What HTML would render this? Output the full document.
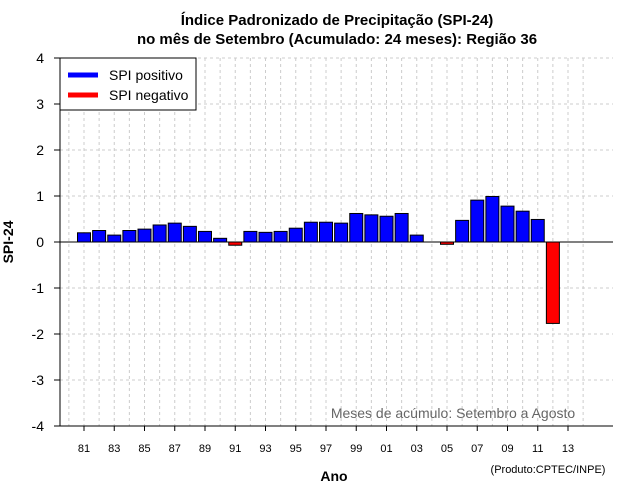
<!DOCTYPE html>
<html><head><meta charset="utf-8"><style>
body{margin:0;background:#fff;}
svg{display:block;font-family:"Liberation Sans",sans-serif;}
</style></head><body>
<svg id="c" width="640" height="500">
<text x="337" y="25" text-anchor="middle" font-size="15" font-weight="bold">Índice Padronizado de Precipitação (SPI-24)</text>
<text x="337" y="44" text-anchor="middle" font-size="15" font-weight="bold">no mês de Setembro (Acumulado: 24 meses): Região 36</text>
<g id="grid"></g><g id="bars"></g><g id="axes"></g>
<text x="334" y="481" text-anchor="middle" font-size="14" font-weight="bold">Ano</text>
<text transform="translate(13,242) rotate(-90)" text-anchor="middle" font-size="14" font-weight="bold">SPI-24</text>
<text x="453" y="418" text-anchor="middle" font-size="14" fill="#666">Meses de acúmulo: Setembro a Agosto</text>
<text x="548" y="473" text-anchor="middle" font-size="11">(Produto:CPTEC/INPE)</text>
<g>
<rect x="60" y="58" width="136" height="52" fill="#fff" stroke="#000"/>
<line x1="68" y1="75" x2="98" y2="75" stroke="#0000ff" stroke-width="5"/>
<text x="109" y="80" font-size="14">SPI positivo</text>
<line x1="68" y1="95" x2="98" y2="95" stroke="#ff0000" stroke-width="5"/>
<text x="109" y="100" font-size="14">SPI negativo</text>
</g>
</svg>
<script>
const years=[1981,1982,1983,1984,1985,1986,1987,1988,1989,1990,1991,1992,1993,1994,1995,1996,1997,1998,1999,2000,2001,2002,2003,2005,2006,2007,2008,2009,2010,2011,2012];
const spi=[0.20,0.25,0.15,0.25,0.28,0.37,0.41,0.34,0.23,0.08,-0.07,0.23,0.21,0.23,0.30,0.43,0.43,0.41,0.62,0.59,0.56,0.62,0.15,-0.05,0.47,0.91,0.99,0.78,0.67,0.49,-1.77];
const yTicks=[-4,-3,-2,-1,0,1,2,3,4];
const xTickYears=[1981,1983,1985,1987,1989,1991,1993,1995,1997,1999,2001,2003,2005,2007,2009,2011,2013];
const NS="http://www.w3.org/2000/svg";
const L=60,R=613,T=58,B=426;
const xS=y=>84+(y-1981)*15.125;
const yS=v=>242-v*46;
function mk(t,a,p){const e=document.createElementNS(NS,t);for(const k in a)e.setAttribute(k,a[k]);p.appendChild(e);return e;}
const grid=document.getElementById('grid'),bars=document.getElementById('bars'),axes=document.getElementById('axes');
for(let y=1980;y<=2014;y++){const x=xS(y);if(x<L||x>R)continue;
 const g=mk('line',{x1:x,x2:x,y1:T,y2:B,stroke:'#ccc','stroke-dasharray':'3,3'},grid);
 
 }
yTicks.forEach(v=>{const y=yS(v);
 const g=mk('line',{x1:L,x2:R,y1:y,y2:y,stroke:'#ccc','stroke-dasharray':'3,3'},grid);
 
 
 mk('line',{x1:L-6,x2:L,y1:y,y2:y,stroke:'#000'},axes);
 const t=mk('text',{x:L-16,y:y+5,'text-anchor':'end','font-size':14},axes);t.textContent=v;
 
 });
years.forEach((yr,i)=>{const v=spi[i],x=xS(yr);const y0=yS(0),y1=yS(v);
 const r=mk('rect',{x:x-6.5,y:Math.min(y0,y1),width:13,height:Math.max(1,Math.abs(y1-y0)),fill:v>=0?'#0000ff':'#ff0000',stroke:'#000','stroke-width':1},bars);
 
 });
mk('line',{x1:L,x2:R,y1:yS(0),y2:yS(0),stroke:'#000'},axes);
mk('line',{x1:L,x2:L,y1:T,y2:B,stroke:'#000'},axes);
mk('line',{x1:L,x2:R,y1:B,y2:B,stroke:'#000'},axes);
xTickYears.forEach(yr=>{const x=xS(yr);
 mk('line',{x1:x,x2:x,y1:B,y2:B+5,stroke:'#000'},axes);
 const t=mk('text',{x:x,y:452,'text-anchor':'middle','font-size':11},axes);t.textContent=String(yr).slice(2);
 
 });
</script>
</body></html>
